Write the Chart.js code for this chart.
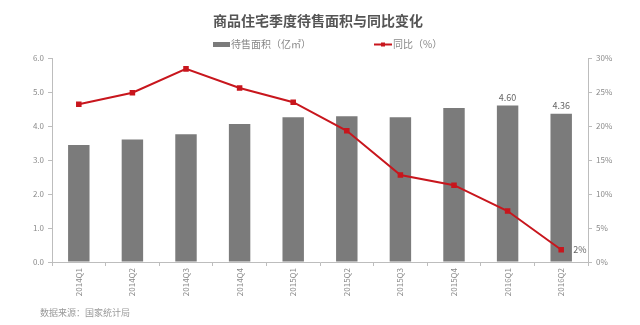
<!DOCTYPE html>
<html>
<head>
<meta charset="utf-8">
<script src="https://cdn.jsdelivr.net/npm/chart.js@4.4.0/dist/chart.umd.min.js"></script>
<style>
  html, body { margin: 0; padding: 0; background: #fff; }
  #wrap { width: 640px; height: 325px; }
</style>
</head>
<body>
<div id="wrap"><canvas id="myChart" width="640" height="325"></canvas></div>
<script>
// 商品住宅季度待售面积与同比
var quarters = ['2014Q1', '2014Q2', '2014Q3', '2014Q4', '2015Q1', '2015Q2', '2015Q3', '2015Q4', '2016Q1', '2016Q2'];
var unsoldArea = [3.44, 3.60, 3.76, 4.06, 4.26, 4.29, 4.26, 4.53, 4.60, 4.36]; // 亿㎡
var yoyPct = [23.2, 24.9, 28.4, 25.6, 23.5, 19.3, 12.8, 11.3, 7.5, 1.8]; // %
var areaTicks = [0, 1, 2, 3, 4, 5, 6];
var pctTicks = [0, 5, 10, 15, 20, 25, 30];

var FONT = '"Noto Sans CJK SC", "Liberation Sans", sans-serif';
var BAR_COLOR = '#7b7b7b';
var LINE_COLOR = '#c8161d';
var AXIS_COLOR = '#bdbdbd';
var TICK_COLOR = '#8a8a8a';

// 标题、图例、数据标签、数据来源
var decorations = {
    id: 'decorations',
    afterDraw: function (chart) {
        var c = chart.ctx;
        c.save();
        c.textBaseline = 'middle';

        c.fillStyle = '#555';
        c.font = 'bold 14px ' + FONT;
        c.textAlign = 'center';
        c.fillText('商品住宅季度待售面积与同比变化', 318, 21);

        // 图例
        c.font = '10px ' + FONT;
        c.textAlign = 'left';
        c.fillStyle = BAR_COLOR;
        c.fillRect(213, 42, 17, 5);
        c.fillStyle = '#888';
        c.fillText('待售面积（亿㎡）', 231, 44);

        c.strokeStyle = LINE_COLOR;
        c.lineWidth = 2;
        c.beginPath();
        c.moveTo(374, 44.5);
        c.lineTo(392, 44.5);
        c.stroke();
        c.fillStyle = LINE_COLOR;
        c.fillRect(381, 42.5, 4, 4);
        c.fillStyle = '#888';
        c.fillText('同比（%）', 393, 44);

        // 数据标签
        var bars = chart.getDatasetMeta(0).data;
        c.font = '9px ' + FONT;
        c.fillStyle = '#666';
        c.textAlign = 'center';
        c.textBaseline = 'bottom';
        [8, 9].forEach(function (i) {
            c.fillText(unsoldArea[i].toFixed(2), bars[i].x, bars[i].y - 4);
        });
        var pts = chart.getDatasetMeta(1).data;
        var last = pts.length - 1;
        c.textAlign = 'left';
        c.textBaseline = 'middle';
        c.fillText(Math.round(yoyPct[last]) + '%', pts[last].x + 12, pts[last].y);

        // 数据来源
        c.font = '9px ' + FONT;
        c.fillStyle = '#999';
        c.fillText('数据来源：国家统计局', 40, 313);
        c.restore();
    }
};

var ctx1 = document.getElementById('myChart');
var myChart = new Chart(ctx1, {
    data: {
        labels: quarters,
        datasets: [
            {
                type: 'bar',
                label: '待售面积（亿㎡）',
                data: unsoldArea,
                backgroundColor: BAR_COLOR,
                yAxisID: 'yArea',
                categoryPercentage: 1,
                barPercentage: 0.4,
                order: 2
            },
            {
                type: 'line',
                label: '同比（%）',
                data: yoyPct,
                borderColor: LINE_COLOR,
                backgroundColor: LINE_COLOR,
                borderWidth: 2,
                pointStyle: 'rect',
                pointRadius: 2.5,
                tension: 0,
                yAxisID: 'yPct',
                order: 1
            }
        ]
    },
    options: {
        responsive: false,
        animation: false,
        layout: { padding: { top: 58, left: 0, right: 0, bottom: 0 } },
        plugins: {
            legend: { display: false },
            tooltip: { enabled: false }
        },
        scales: {
            x: {
                offset: true,
                grid: { display: true, offset: true, drawOnChartArea: false, tickLength: 4, color: AXIS_COLOR },
                border: { color: AXIS_COLOR },
                ticks: {
                    minRotation: 90, maxRotation: 90, color: TICK_COLOR, padding: 2,
                    font: { size: 8, family: FONT }
                },
                afterFit: function (s) { s.height = 63; }
            },
            yArea: {
                position: 'left',
                min: 0, max: 6,
                afterBuildTicks: function (s) { s.ticks = areaTicks.map(function (v) { return { value: v }; }); },
                grid: { drawOnChartArea: false, tickLength: 4, color: AXIS_COLOR },
                border: { color: AXIS_COLOR },
                ticks: {
                    color: TICK_COLOR, padding: 4,
                    font: { size: 8, family: FONT },
                    callback: function (v) { return Number(v).toFixed(1); }
                },
                afterFit: function (s) { s.width = 52; }
            },
            yPct: {
                position: 'right',
                min: 0, max: 30,
                afterBuildTicks: function (s) { s.ticks = pctTicks.map(function (v) { return { value: v }; }); },
                grid: { drawOnChartArea: false, tickLength: 4, color: AXIS_COLOR },
                border: { color: AXIS_COLOR },
                ticks: {
                    color: TICK_COLOR, padding: 4,
                    font: { size: 8, family: FONT },
                    callback: function (v) { return v + '%'; }
                },
                afterFit: function (s) { s.width = 52; }
            }
        }
    },
    plugins: [decorations]
});
</script>
</body>
</html>
